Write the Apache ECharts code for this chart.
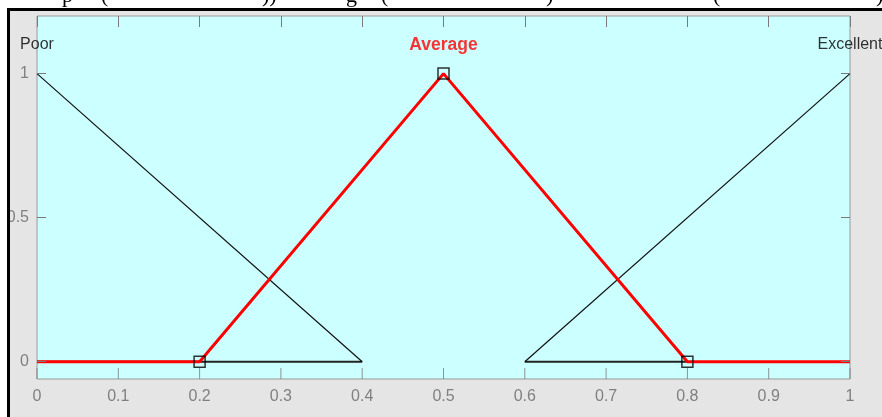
<!DOCTYPE html>
<html>
<head>
<meta charset="utf-8">
<script src="https://cdn.jsdelivr.net/npm/echarts@6/dist/echarts.min.js"></script>
<style>
html,body{margin:0;padding:0;background:#fff;}
#c{width:882px;height:417px;}
</style>
</head>
<body>
<div id="c"></div>
<script>
// ---- data ----
const xTickValues = [0, 0.1, 0.2, 0.3, 0.4, 0.5, 0.6, 0.7, 0.8, 0.9, 1];
const yTickValues = [0, 0.5, 1];
const poorSlope = [[0, 1], [0.4, 0]];
const poorBase = [[0, 0], [0.4, 0]];
const excellentSlope = [[0.6, 0], [1, 1]];
const excellentBase = [[0.6, 0], [0.8, 0]];
const averageLine = [[0, 0], [0.2, 0], [0.5, 1], [0.8, 0], [1, 0]];
const averageVertices = [[0.2, 0], [0.5, 1], [0.8, 0]];
const mfNames = ['Poor', 'Average', 'Excellent'];
const mfLabelPos = [[0, 1.1], [0.5, 1.1], [1, 1.1]];
const captionFragments = ['p', '(', '))', 'g', '(', ')', '(', ')'];
const captionX = [62, 101, 262, 346, 381, 546, 713, 876];

const FONT = '"Liberation Sans", Arial, sans-serif';
const chart = echarts.init(document.getElementById('c'));

// plot box geometry
const W = 882, H = 417, L = 37, R = 32, T = 16, B = 38;
const yMin = -0.06, yMax = 1.2;
const plotH = H - T - B;
const pxPerUnit = plotH / (yMax - yMin);
// inner grid covering exactly the 0..1 span of the y scale (for the 0 / 0.5 / 1 ticks)
const innerTop = T + (yMax - 1) * pxPerUnit;
const innerBottom = B + (0 - yMin) * pxPerUnit;
const tickLen = 11;

const black = {type: 'line', symbol: 'none', silent: true, animation: false};
const tickStyle = {color: '#7a7a7a', width: 1};
const noLine = {show: false, onZero: false};

const option = {
  animation: false,
  grid: [
    {left: L, right: R, top: T, bottom: B, show: true,
     backgroundColor: '#ccffff', borderColor: '#9a9a9a', borderWidth: 1},
    {left: L, right: R, top: innerTop, bottom: innerBottom, show: false}
  ],
  xAxis: [{
    gridIndex: 0, type: 'value', min: 0, max: 1, interval: 0.1, position: 'bottom', z: 10,
    axisLine: noLine, splitLine: {show: false}, axisTick: {show: false},
    axisLabel: {color: '#808080', fontFamily: FONT, fontSize: 16, margin: 10,
                formatter: v => String(+v.toFixed(1))}
  }, {
    gridIndex: 0, type: 'value', min: 0, max: 1, interval: 0.1, position: 'top', z: 10,
    axisLine: noLine, splitLine: {show: false},
    axisTick: {show: true, inside: true, length: tickLen, lineStyle: tickStyle},
    axisLabel: {show: false}
  }, {
    gridIndex: 1, type: 'value', min: 0, max: 1, show: false
  }],
  yAxis: [{
    gridIndex: 0, type: 'value', min: yMin, max: yMax, show: false
  }, {
    gridIndex: 1, type: 'value', min: 0, max: 1, interval: 0.5, position: 'left', z: 10,
    axisLine: noLine, splitLine: {show: false},
    axisTick: {show: true, inside: true, length: 9, lineStyle: tickStyle},
    axisLabel: {color: '#808080', fontFamily: FONT, fontSize: 16, margin: 8,
                formatter: v => String(v)}
  }, {
    gridIndex: 1, type: 'value', min: 0, max: 1, interval: 0.5, position: 'right', z: 10,
    axisLine: noLine, splitLine: {show: false},
    axisTick: {show: true, inside: true, length: 9, lineStyle: tickStyle},
    axisLabel: {show: false}
  }],
  graphic: [
    {type: 'rect', z: -100, shape: {x: 10, y: 11, width: 872, height: 406}, style: {fill: '#e5e5e5'}}
  ].concat(captionFragments.map((t, i) => ({
    type: 'text', z: 90, x: captionX[i], y: 7,
    style: {text: t, fill: '#000', font: '22px "Liberation Serif", "Times New Roman", serif',
            verticalAlign: 'bottom', textVerticalAlign: 'bottom'}
  }))).concat([
    {type: 'rect', z: 100, shape: {x: 7, y: 8, width: 875, height: 3}, style: {fill: '#000'}},
    {type: 'rect', z: 100, shape: {x: 7, y: 8, width: 3, height: 409}, style: {fill: '#000'}}
  ]),
  series: [
    // bottom tick marks, standing on the lower edge of the plot
    {type: 'scatter', silent: true, z: 1, clip: false,
     data: xTickValues.map(v => [v, yMin]),
     symbol: 'rect', symbolSize: [1, tickLen], symbolOffset: [0, -tickLen / 2],
     itemStyle: {color: '#7a7a7a'}},
    Object.assign({}, black, {data: poorBase, lineStyle: {color: '#222', width: 2}}),
    Object.assign({}, black, {data: poorSlope, lineStyle: {color: '#111', width: 1.2}}),
    Object.assign({}, black, {data: excellentBase, lineStyle: {color: '#222', width: 2}}),
    Object.assign({}, black, {data: excellentSlope, lineStyle: {color: '#111', width: 1.2}}),
    {type: 'line', symbol: 'none', data: averageLine, z: 5,
     lineStyle: {color: '#ff0000', width: 3}},
    {type: 'scatter', data: averageVertices, symbol: 'rect', symbolSize: 11, z: 6,
     itemStyle: {color: 'rgba(0,0,0,0)', borderColor: '#000', borderWidth: 1.5}},
    {type: 'scatter', symbolSize: 0, z: 7,
     data: mfNames.map((n, i) => ({
       name: n, value: mfLabelPos[i],
       label: {show: true, position: 'inside', formatter: '{b}',
               fontFamily: FONT,
               fontSize: i === 1 ? 17.5 : 16,
               fontWeight: i === 1 ? 'bold' : 'normal',
               color: i === 1 ? '#ff0000' : '#000'}
     }))}
  ]
};
chart.setOption(option);
</script>
</body>
</html>
